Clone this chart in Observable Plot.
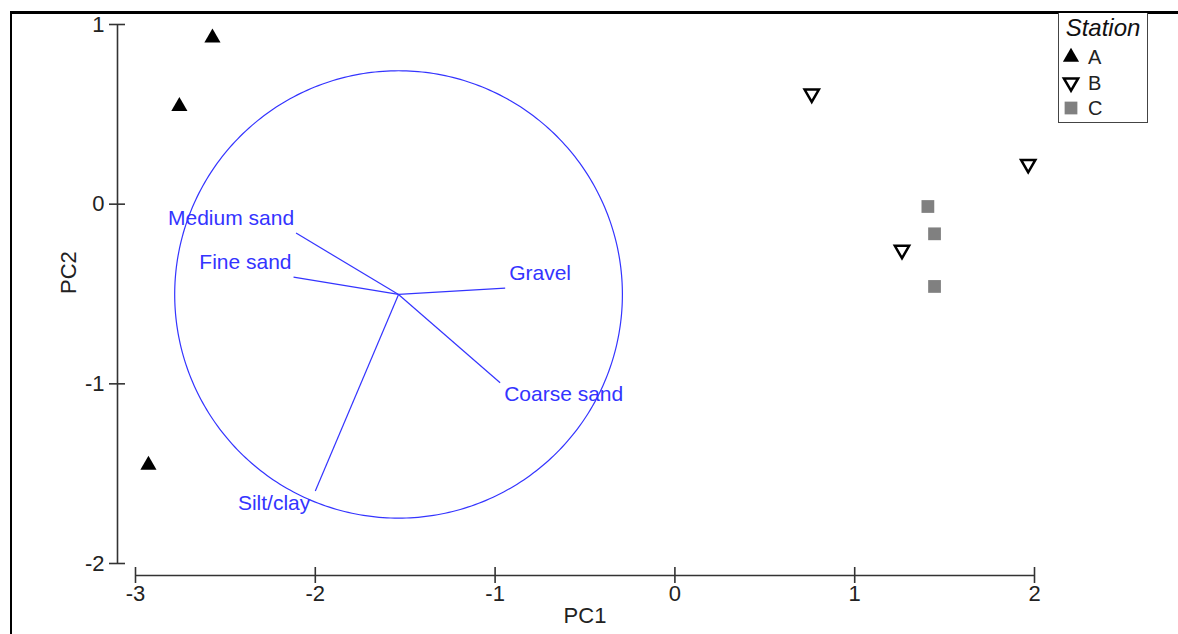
<!DOCTYPE html>
<html><head><meta charset="utf-8">
<script src="https://cdn.jsdelivr.net/npm/d3@7"></script>
<script src="https://cdn.jsdelivr.net/npm/@observablehq/plot@0.6"></script>
<style>
html,body{margin:0;padding:0;background:#fff;}
#wrap{position:relative;width:1178px;height:634px;overflow:hidden;font-family:"Liberation Sans",Arial,sans-serif;}
#frame{position:absolute;left:10px;top:11px;width:2000px;height:2000px;border-top:3px solid #000;border-left:2px solid #000;}
#chart{position:absolute;left:0;top:0;}
#legend{position:absolute;left:1058px;top:13px;width:88px;height:109px;border:1px solid #444;border-top:none;background:#fff;}
</style></head><body>
<div id="wrap"><div id="frame"></div><div id="chart"></div><div id="legend"></div></div>
<script>
// ---- data ----
const stations = ["A", "B", "C"];
const pointStation = ["A", "A", "A", "B", "B", "B", "C", "C", "C"];
const pc1 = [-2.572, -2.756, -2.928, 0.761, 1.965, 1.263, 1.407, 1.444, 1.444];
const pc2 = [0.926, 0.544, -1.452, 0.615, 0.223, -0.255, -0.013, -0.165, -0.458];
const variables = ["Medium sand", "Fine sand", "Gravel", "Coarse sand", "Silt/clay"];
const vecX = [-2.107, -2.121, -0.944, -0.972, -2.0];
const vecY = [-0.161, -0.406, -0.467, -0.994, -1.597];
const originXY = [-1.537, -0.5025];
const circleRadius = 1.245;
const xTicks = [-3, -2, -1, 0, 1, 2];
const yTicks = [-2, -1, 0, 1];

// ---- tables ----
const points = pc1.map((x, i) => ({x, y: pc2[i], station: pointStation[i]}));
const vectors = variables.map((name, i) => ({name, x: vecX[i], y: vecY[i]}));
const [ox, oy] = originXY;
const circle = d3.range(0, 361, 1).map(a => {
  const t = a * Math.PI / 180;
  return {x: ox + circleRadius * Math.cos(t), y: oy + circleRadius * Math.sin(t)};
});

const BLUE = "#3434ff";
const symbolStyle = {
  A: {symbol: "triangle", r: 6, fill: "#000", stroke: "none", strokeWidth: 0, rotate: 0},
  B: {symbol: "triangle", r: 5.3, fill: "#fff", stroke: "#000", strokeWidth: 2.5, rotate: 180},
  C: {symbol: "square", r: 7.2, fill: "#808080", stroke: "none", strokeWidth: 0, rotate: 0}
};

function labelMark(filter, anchor, dx, dy) {
  return Plot.text(vectors.filter(filter), {
    x: "x", y: "y", text: "name", textAnchor: anchor, dx, dy,
    fill: BLUE, fontSize: 21
  });
}

const fmt = d => String(d);
const chart = Plot.plot({
  width: 1178, height: 634,
  marginLeft: 135, marginRight: 144, marginTop: 24, marginBottom: 71,
  style: {fontFamily: '"Liberation Sans", Arial, sans-serif', background: "transparent", overflow: "visible"},
  x: {domain: [xTicks[0], xTicks[xTicks.length - 1]]},
  y: {domain: [yTicks[0], yTicks[yTicks.length - 1]]},
  marks: [
    // axes
    Plot.ruleX([xTicks[0]], {y1: yTicks[0], y2: yTicks[yTicks.length - 1], dx: -18, stroke: "#333", strokeWidth: 1.6}),
    Plot.ruleY([yTicks[0]], {x1: xTicks[0], x2: xTicks[xTicks.length - 1], dy: 12, stroke: "#333", strokeWidth: 1.6}),
    Plot.axisY(yTicks, {tickSize: 16, dx: -10, tickPadding: 5, tickFormat: fmt, fontSize: 22, stroke: "#333", strokeWidth: 1.6, color: "#222", label: null}),
    Plot.axisX(xTicks, {tickSize: 16, dy: 4, tickPadding: 2, tickFormat: fmt, fontSize: 22, stroke: "#333", strokeWidth: 1.6, color: "#222", label: null}),
    Plot.text(["PC1"], {frameAnchor: "bottom", dy: 59, fontSize: 22, fill: "#222"}),
    Plot.text(["PC2"], {frameAnchor: "left", dx: -67, rotate: -90, fontSize: 22, fill: "#222"}),
    // correlation circle and vectors
    Plot.line(circle, {x: "x", y: "y", stroke: BLUE, strokeWidth: 1.2}),
    Plot.link(vectors, {x1: () => ox, y1: () => oy, x2: "x", y2: "y", stroke: BLUE, strokeWidth: 1.2}),
    labelMark(d => d.x < ox && d.y > oy, "end", -2, -15),
    labelMark(d => d.x >= ox && d.y > oy, "start", 4, -15),
    labelMark(d => d.x >= ox && d.y <= oy, "start", 4, 12),
    labelMark(d => d.x < ox && d.y <= oy, "end", -5, 12),
    // samples
    ...stations.map(s => {
      const st = symbolStyle[s];
      return Plot.dot(points.filter(d => d.station === s), {
        x: "x", y: "y", symbol: st.symbol, r: st.r, fill: st.fill,
        stroke: st.stroke, strokeWidth: st.strokeWidth, rotate: st.rotate
      });
    })
  ]
});
document.getElementById("chart").append(chart);

// ---- legend ----
const lg = d3.select("#legend").append("svg").attr("width", 88).attr("height", 109)
  .style("font-family", '"Liberation Sans", Arial, sans-serif');
lg.append("text").attr("x", 44).attr("y", 23).attr("text-anchor", "middle")
  .attr("font-size", 24).attr("font-style", "italic").attr("fill", "#111").text("Station");
const symType = {triangle: d3.symbolTriangle, square: d3.symbolSquare};
stations.forEach((s, i) => {
  const st = symbolStyle[s];
  const cy = 44 + i * 25.5;
  lg.append("path")
    .attr("d", d3.symbol(symType[st.symbol], Math.PI * st.r * st.r)())
    .attr("transform", `translate(12,${cy}) rotate(${st.rotate})`)
    .attr("fill", st.fill).attr("stroke", st.stroke).attr("stroke-width", st.strokeWidth);
  lg.append("text").attr("x", 29).attr("y", cy).attr("dy", "0.35em")
    .attr("font-size", 20).attr("fill", "#222").text(s);
});
</script>
</body></html>
